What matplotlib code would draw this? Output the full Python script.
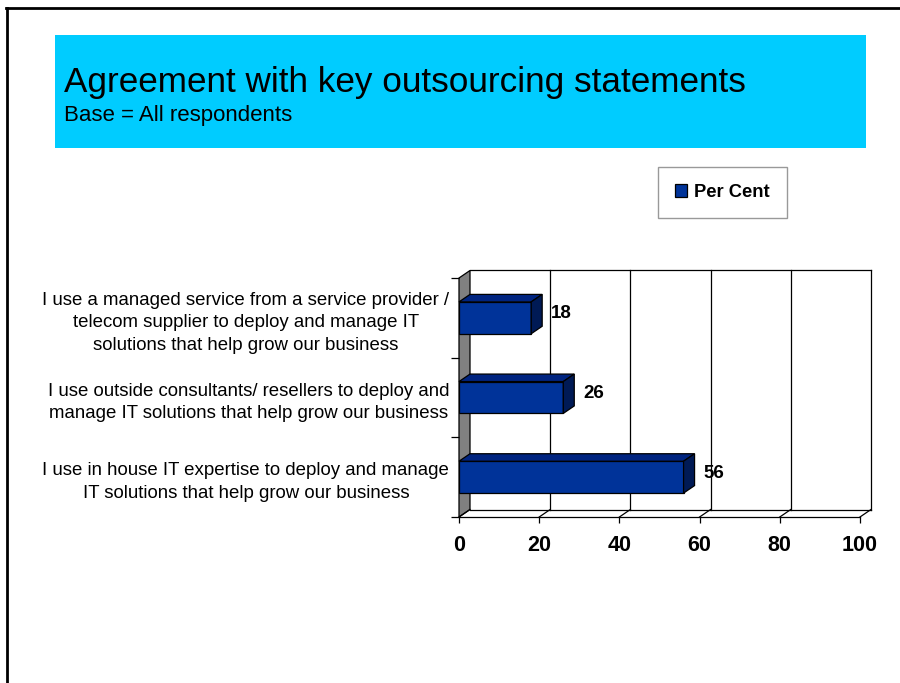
import matplotlib
matplotlib.use("Agg")
import matplotlib.pyplot as plt
from matplotlib.patches import Polygon, Rectangle
from matplotlib.lines import Line2D

# ---- data -------------------------------------------------------------
categories = [
    "I use in house IT expertise to deploy and manage\nIT solutions that help grow our business",
    "I use outside consultants/ resellers to deploy and\nmanage IT solutions that help grow our business",
    "I use a managed service from a service provider /\ntelecom supplier to deploy and manage IT\nsolutions that help grow our business",
]
per_cent = [56, 26, 18]
x_ticks = [0, 20, 40, 60, 80, 100]
series_name = "Per Cent"
title = "Agreement with key outsourcing statements"
subtitle = "Base = All respondents"

# ---- figure -----------------------------------------------------------
plt.rcParams['font.family'] = ['Liberation Sans', 'DejaVu Sans']
W, H = 900, 683
fig = plt.figure(figsize=(W / 100, H / 100), dpi=100)


def fx(px):
    return px / W


def fy(py):
    return 1 - py / H


# slide frame
fig.add_artist(Line2D([fx(6), 1], [fy(8), fy(8)], color='black', lw=2))
fig.add_artist(Line2D([fx(7), fx(7)], [fy(8), 0], color='black', lw=2))

# title band
fig.add_artist(Rectangle((fx(55), fy(148)), fx(866) - fx(55), fy(35) - fy(148),
                         facecolor='#00CCFF', edgecolor='none'))
fig.text(fx(64.5), fy(92), title, fontsize=25.3, va='baseline')
fig.text(fx(64.5), fy(121), subtitle, fontsize=16, va='baseline')

# ---- plot area (front plane of the 3-D bar chart) ----------------------
L, R, T, B = 459, 860, 278, 517
ax = fig.add_axes([fx(L), fy(B), fx(R) - fx(L), fy(T) - fy(B)])
xmin, xmax = x_ticks[0], x_ticks[-1]
n = len(categories)
ax.set_xlim(xmin, xmax)
ax.set_ylim(0, n)
for s in ax.spines.values():
    s.set_visible(False)
ax.patch.set_visible(False)

# depth of the 3-D effect, converted from pixels to data units
DX_PX, DY_PX = 11, 7.5
dx = DX_PX * (xmax - xmin) / (R - L)
dy = DY_PX * n / (B - T)

line_kw = dict(color='black', lw=0.9, clip_on=False)

# left wall
ax.add_patch(Polygon([(xmin, 0), (xmin, n), (xmin + dx, n + dy), (xmin + dx, dy)],
                     closed=True, facecolor='#808080', edgecolor='black', lw=0.9,
                     clip_on=False, zorder=1))
# back wall outline and vertical gridlines
ax.plot([xmin + dx, xmax + dx], [n + dy, n + dy], **line_kw)
for v in x_ticks[1:]:
    ax.plot([v + dx, v + dx], [dy, n + dy], **line_kw)
# floor
ax.plot([xmin, xmax], [0, 0], **line_kw)
ax.plot([xmin + dx, xmax + dx], [dy, dy], **line_kw)
for v in x_ticks:
    ax.plot([v, v + dx], [0, dy], **line_kw)

# bars
bar_h = 0.4
y_pos = [i + 0.5 for i in range(n)]
bars = ax.barh(y_pos, per_cent, height=bar_h, left=xmin, color='#003399',
               edgecolor='black', lw=0.9, label=series_name, zorder=3)
for yc, v in zip(y_pos, per_cent):
    yb, yt = yc - bar_h / 2, yc + bar_h / 2
    ax.add_patch(Polygon([(xmin, yt), (v, yt), (v + dx, yt + dy), (xmin + dx, yt + dy)],
                         closed=True, facecolor='#002480', edgecolor='black', lw=0.9,
                         clip_on=False, zorder=3))
    ax.add_patch(Polygon([(v, yb), (v, yt), (v + dx, yt + dy), (v + dx, yb + dy)],
                         closed=True, facecolor='#001a55', edgecolor='black', lw=0.9,
                         clip_on=False, zorder=3))
    ax.annotate(f"{v}", xy=(v + dx, yc), xytext=(9, 4), textcoords='offset pixels',
                ha='left', va='center', fontsize=13.5, fontweight='bold')

# axes ticks and labels
ax.set_xticks(x_ticks)
ax.set_xticklabels([str(t) for t in x_ticks], fontsize=15.5, fontweight='bold')
ax.tick_params(axis='x', length=4, width=0.9, pad=9)
ax.set_yticks(range(n + 1))
ax.set_yticklabels([])
ax.tick_params(axis='y', which='major', length=6, width=0.9)
ax.set_yticks(y_pos, minor=True)
ax.set_yticklabels(categories, minor=True, fontsize=13.4, linespacing=1.42)
ax.tick_params(axis='y', which='minor', length=0, pad=7)
for t in ax.get_yticklabels(minor=True):
    t.set_multialignment('center')

# legend
leg = fig.legend(handles=[bars], labels=[series_name], loc='center',
                 bbox_to_anchor=(fx(722.5), fy(192.5)), frameon=True, fancybox=False,
                 edgecolor='#808080', handlelength=0.65, handleheight=0.65,
                 handletextpad=0.4, borderpad=0.92, borderaxespad=0,
                 prop=dict(size=13.2, weight='bold'))
leg.get_frame().set_linewidth(1.0)

fig.savefig("out.png", dpi=100)
